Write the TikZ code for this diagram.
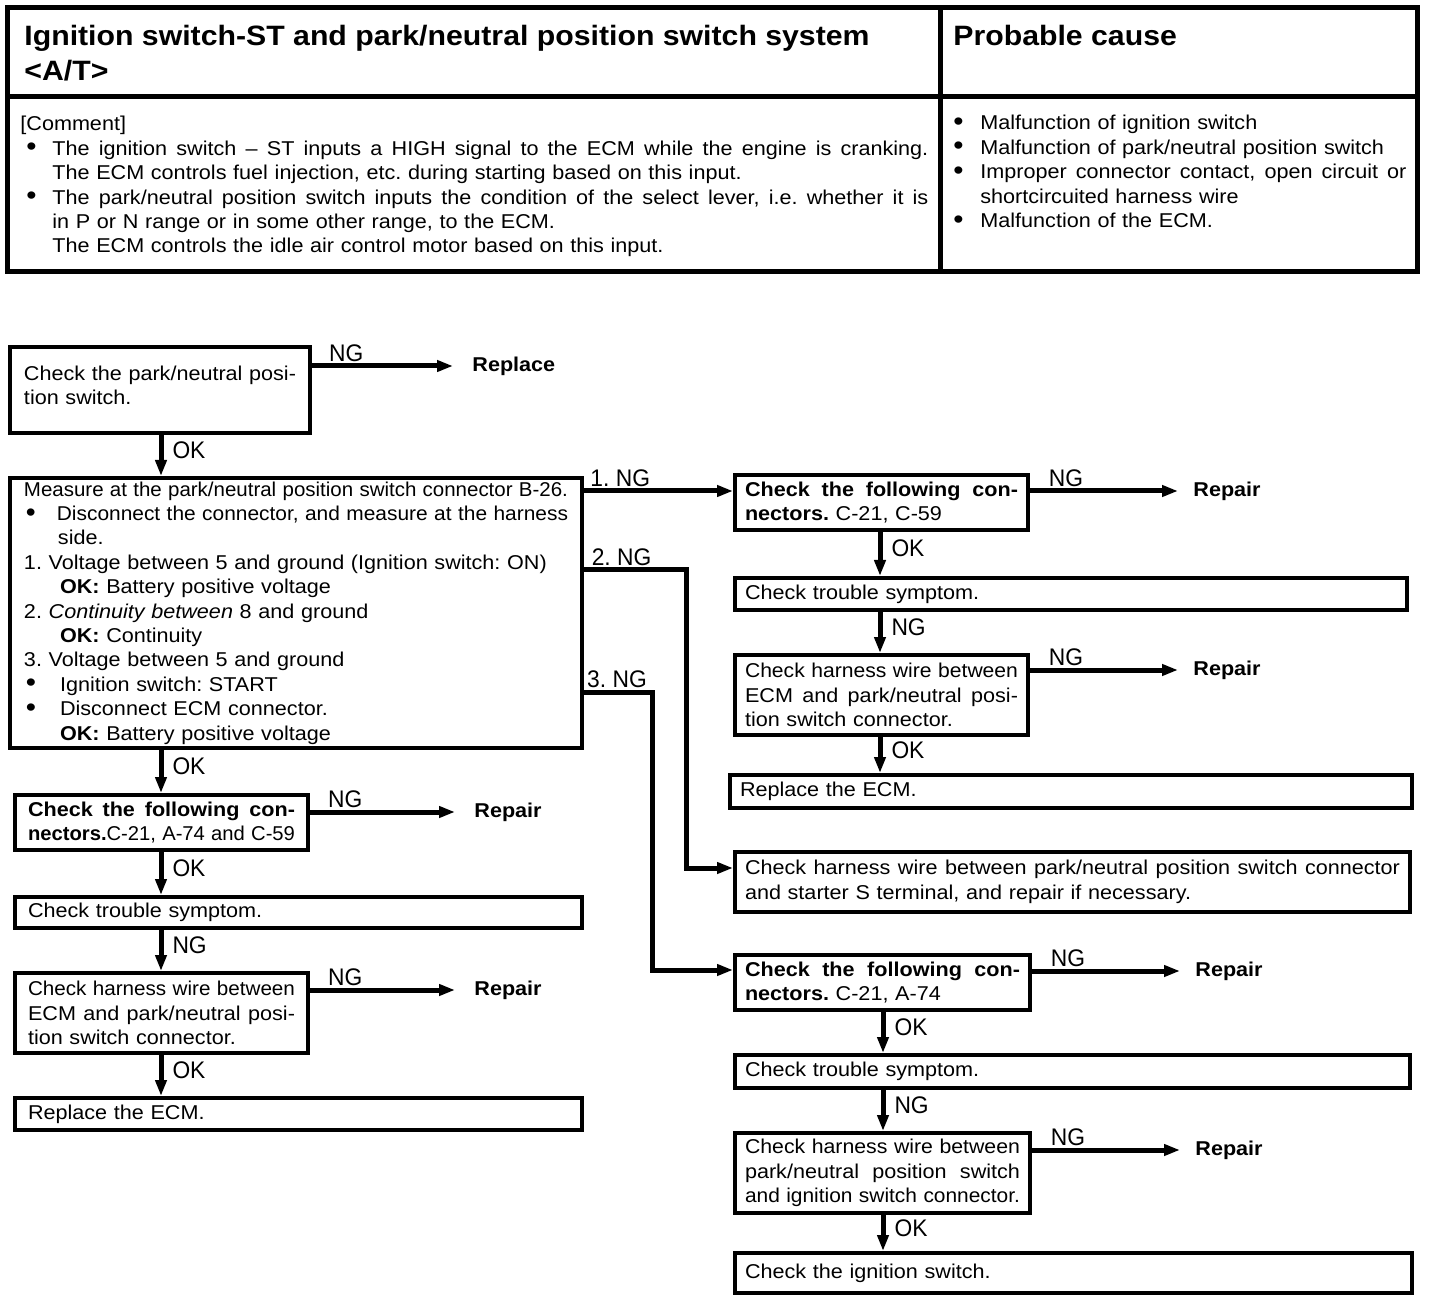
\documentclass[tikz,border=0pt]{standalone}
\usepackage{fontspec}
\setmainfont{Liberation Sans}[FakeStretch=1.08]
\newfontfamily\labfont{Liberation Sans}[FakeStretch=0.95]
\usepackage{graphicx}
\usetikzlibrary{arrows.meta,calc}
\newsavebox\linebox
\newcommand\jlin[1]{\sbox\linebox{#1}\ifdim\wd\linebox>\hsize\resizebox{\hsize}{\height}{\usebox\linebox}\else\makebox[\hsize][s]{\spaceskip=0pt\xspaceskip=0pt #1}\fi}
\newcommand\rlin[1]{\sbox\linebox{#1}\ifdim\wd\linebox>\hsize\resizebox{\hsize}{\height}{\usebox\linebox}\else\usebox\linebox\fi}
\newcommand\bul[2][16pt]{\makebox[#1][l]{\hspace{#2}\raisebox{-0.3pt}{\scalebox{1.35}{\textbullet}}}}
\frenchspacing
\begin{document}
\begin{tikzpicture}[x=0.5pt,y=-0.5pt,
  font=\fontsize{10}{12.2}\selectfont\frenchspacing,
  box/.style={draw,line width=2.2pt,anchor=north west,inner xsep=7pt,inner ysep=0pt,outer sep=0pt,align=left},
  arr/.style={line width=2.5pt,-{Triangle[length=8pt,width=5.5pt]},shorten >=1pt},
  res/.style={anchor=west,inner sep=0pt,font=\fontsize{10}{12.2}\selectfont\bfseries},
  lab/.style={inner sep=1.5pt,font=\labfont\fontsize{12}{14}\selectfont},
  vlab/.style={lab,right,pos=0.38,xshift=3pt},
  hlab/.style={lab,above,pos=0.25,inner sep=1pt},
  tbl/.style={line width=2.5pt},
  txt/.style={anchor=north west,inner sep=0pt,align=left}]
\useasboundingbox (0,0) rectangle (1440,1304);

% ---------- table ----------
\draw[tbl] (7,8) rectangle (1417,272);
\draw[tbl] (7,97) -- (1417,97);
\draw[tbl] (940,8) -- (940,272);
\node[txt,font=\fontsize{14}{17.5}\selectfont\bfseries] (title) at (24,25)
  {Ignition switch-ST and park/neutral position switch system\\<A/T>};
\node[txt,font=\fontsize{14}{17.5}\selectfont\bfseries] (pc) at (953,25) {Probable cause};
\node[txt,text width=454pt] (cm) at (20,116)
  {[Comment]\\
   \jlin{\bul{3pt}The ignition switch – ST inputs a HIGH signal to the ECM while the engine is cranking.}\\
   \hspace*{16pt}The ECM controls fuel injection, etc. during starting based on this input.\\
   \jlin{\bul{3pt}The park/neutral position switch inputs the condition of the select lever, i.e. whether it is}\\
   \hspace*{16pt}in P or N range or in some other range, to the ECM.\\
   \hspace*{16pt}The ECM controls the idle air control motor based on this input.};
\node[txt,text width=229pt] (pcl) at (948,115)
  {\bul{2.5pt}Malfunction of ignition switch\\
   \bul{2.5pt}Malfunction of park/neutral position switch\\
   \jlin{\bul{2.5pt}Improper connector contact, open circuit or}\\
   \hspace*{16pt}shortcircuited harness wire\\
   \bul{2.5pt}Malfunction of the ECM.};

% ---------- columns ----------
\coordinate (cL) at (161,0);
\coordinate (cR) at (880,0);
\coordinate (cS) at (883,0);

% ---------- left column ----------
\node[box,minimum width=150pt,minimum height=43pt,text width=136pt] (b1) at (10,347)
  {\jlin{Check the park/neutral posi-}\\tion switch.\\[-7.5pt]\mbox{}};
\node[res] (rpl) at (472,366) {Replace};
\draw[arr] (b1.east |- rpl) -- node[hlab]{NG} ([xshift=-8.5pt]rpl.west);

\node[box,minimum width=286pt,minimum height=135pt,text width=272pt] (b2) at (10,478)
  {\jlin{Measure at the park/neutral position switch connector B-26.}\\
   \jlin{\bul[17pt]{1pt}Disconnect the connector, and measure at the harness}\\
   \hspace*{17pt}side.\\
   \rlin{1. Voltage between 5 and ground (Ignition switch: ON)}\\
   \hspace*{18pt}\textbf{OK:} Battery positive voltage\\
   2. \textit{Continuity between} 8 and ground\\
   \hspace*{18pt}\textbf{OK:} Continuity\\
   3. Voltage between 5 and ground\\
   \bul[18pt]{1pt}Ignition switch: START\\
   \bul[18pt]{1pt}Disconnect ECM connector.\\
   \hspace*{18pt}\textbf{OK:} Battery positive voltage};
\draw[arr] (b1.south -| cL) -- node[vlab]{OK} (b2.north -| cL);

\node[box,minimum width=146.5pt,minimum height=27.5pt,inner xsep=6.5pt,text width=133.5pt] (l1) at (15,795)
  {\jlin{\bfseries Check the following con-}\\
   \jlin{\textbf{nectors.}C-21, A-74 and C-59}};
\draw[arr] (b2.south -| cL) -- node[vlab]{OK} (l1.north -| cL);
\node[res] (rp1) at (474,812) {Repair};
\draw[arr] (l1.east |- rp1) -- node[hlab]{NG} ([xshift=-8.5pt]rp1.west);

\node[box,minimum width=283.5pt,minimum height=15.5pt,inner xsep=6.5pt,text width=270.5pt] (l2) at (15,897)
  {Check trouble symptom.};
\draw[arr] (l1.south -| cL) -- node[vlab]{OK} (l2.north -| cL);

\node[box,minimum width=146.5pt,minimum height=40pt,inner xsep=6.5pt,text width=133.5pt] (l3) at (15,973)
  {\jlin{Check harness wire between}\\
   \jlin{ECM and park/neutral posi-}\\
   tion switch connector.};
\draw[arr] (l2.south -| cL) -- node[vlab]{NG} (l3.north -| cL);
\node[res] (rp2) at (474,990) {Repair};
\draw[arr] (l3.east |- rp2) -- node[hlab]{NG} ([xshift=-8.5pt]rp2.west);

\node[box,minimum width=283.5pt,minimum height=16pt,inner xsep=6.5pt,text width=270.5pt] (l4) at (15,1098)
  {Replace the ECM.};
\draw[arr] (l3.south -| cL) -- node[vlab]{OK} (l4.north -| cL);

% ---------- right column, branch 1 ----------
\node[box,minimum width=146.5pt,minimum height=27.5pt,inner xsep=5pt,text width=136.5pt] (r1) at (735,475)
  {\jlin{\bfseries Check the following con-}\\
   \textbf{nectors.} C-21, C-59};
\node[res] (rp3) at (1193,491) {Repair};
\draw[arr] (b2.east |- rp3) -- node[hlab]{1. NG} (r1.west |- rp3);
\draw[arr] (r1.east |- rp3) -- node[hlab]{NG} ([xshift=-6.5pt]rp3.west);

\node[box,minimum width=336pt,minimum height=16pt,inner xsep=5pt,text width=326pt] (r2) at (735,578)
  {Check trouble symptom.};
\draw[arr] (r1.south -| cR) -- node[vlab]{OK} (r2.north -| cR);

\node[box,minimum width=146.5pt,minimum height=40pt,inner xsep=5pt,text width=136.5pt] (r3) at (735,655)
  {\jlin{Check harness wire between}\\
   \jlin{ECM and park/neutral posi-}\\
   tion switch connector.};
\draw[arr] (r2.south -| cR) -- node[vlab]{NG} (r3.north -| cR);
\node[res] (rp4) at (1193,670) {Repair};
\draw[arr] (r3.east |- rp4) -- node[hlab]{NG} ([xshift=-6.5pt]rp4.west);

\node[box,minimum width=341pt,minimum height=16.5pt,inner xsep=5pt,text width=331pt] (r4) at (730,775)
  {Replace the ECM.};
\draw[arr] (r3.south -| cR) -- node[vlab]{OK} (r4.north -| cR);

% ---------- branch 2 ----------
\node[box,minimum width=337.5pt,minimum height=30pt,inner xsep=5pt,text width=327.5pt] (r5) at (735,852)
  {\jlin{Check harness wire between park/neutral position switch connector}\\
   and starter S terminal, and repair if necessary.};
\coordinate (t2) at (686,570);
\coordinate (t2b) at (686,868);
\draw[arr] (b2.east |- t2) -- node[lab,above,pos=0.38,inner sep=1pt]{2. NG} (t2) -- (t2b) -- (r5.west |- t2b);

% ---------- branch 3 ----------
\node[box,minimum width=147.5pt,minimum height=27.5pt,inner xsep=5pt,text width=137.5pt] (r6) at (735,955)
  {\jlin{\bfseries Check the following con-}\\
   \textbf{nectors.} C-21, A-74};
\coordinate (t3) at (652,692);
\coordinate (t3b) at (652,970);
\draw[arr] (b2.east |- t3) -- node[lab,above,pos=0.5,inner sep=1pt]{3. NG} (t3) -- (t3b) -- (r6.west |- t3b);
\node[res] (rp5) at (1195,971) {Repair};
\draw[arr] (r6.east |- rp5) -- node[hlab]{NG} ([xshift=-6.5pt]rp5.west);

\node[box,minimum width=337.5pt,minimum height=16.5pt,inner xsep=5pt,text width=327.5pt] (r7) at (735,1055)
  {Check trouble symptom.};
\draw[arr] (r6.south -| cS) -- node[vlab]{OK} (r7.north -| cS);

\node[box,minimum width=147.5pt,minimum height=40pt,inner xsep=5pt,text width=137.5pt] (r8) at (735,1133)
  {\jlin{Check harness wire between}\\
   \jlin{park/neutral position switch}\\
   \jlin{and ignition switch connector.}};
\draw[arr] (r7.south -| cS) -- node[vlab]{NG} (r8.north -| cS);
\node[res] (rp6) at (1195,1150) {Repair};
\draw[arr] (r8.east |- rp6) -- node[hlab]{NG} ([xshift=-6.5pt]rp6.west);

\node[box,minimum width=338.5pt,minimum height=20pt,inner xsep=5pt,text width=328.5pt] (r9) at (735,1253)
  {Check the ignition switch.};
\draw[arr] (r8.south -| cS) -- node[vlab]{OK} (r9.north -| cS);
\end{tikzpicture}
\end{document}
